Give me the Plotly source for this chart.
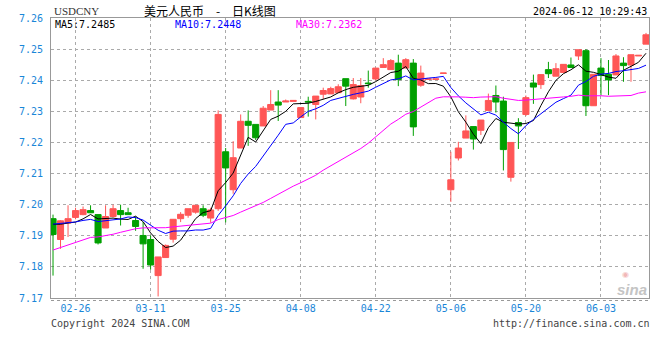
import pandas as pd
import plotly.graph_objects as go

# ---------------- data ----------------
dates = pd.bdate_range("2024-02-21", "2024-06-11").strftime("%Y-%m-%d").tolist()

open_ = [7.1955, 7.1888, 7.1941, 7.1959, 7.1968, 7.1981, 7.1968, 7.1925, 7.1962, 7.1981,
         7.1974, 7.1949, 7.1901, 7.1888, 7.1772, 7.1830, 7.1889, 7.1955, 7.1966, 7.1976,
         7.1987, 7.1957, 7.1987, 7.2170, 7.2048, 7.2182, 7.2268, 7.2258, 7.2253, 7.2304,
         7.2330, 7.2330, 7.2332, 7.2280, 7.2332, 7.2322, 7.2355, 7.2356, 7.2360, 7.2405,
         7.2340, 7.2346, 7.2391, 7.2404, 7.2441, 7.2434, 7.2455, 7.2439, 7.2455, 7.2384,
         7.2403, 7.2403, 7.2422, 7.2048, 7.2150, 7.2214, 7.2251, 7.2239, 7.2303, 7.2351,
         7.2333, 7.2088, 7.2264, 7.2290, 7.2391, 7.2386, 7.2434, 7.2413, 7.2425, 7.2449,
         7.2478, 7.2495, 7.2318, 7.2439, 7.2419, 7.2417, 7.2455, 7.2449, 7.2478, 7.2516]
high = [7.1968, 7.1950, 7.1998, 7.1990, 7.1994, 7.1998, 7.1968, 7.1998, 7.2000, 7.2000,
        7.1990, 7.1962, 7.1944, 7.1901, 7.1832, 7.1872, 7.1953, 7.1976, 7.1987, 7.1998,
        7.1998, 7.1990, 7.2303, 7.2182, 7.2204, 7.2290, 7.2303, 7.2258, 7.2317, 7.2368,
        7.2368, 7.2338, 7.2335, 7.2312, 7.2347, 7.2349, 7.2376, 7.2379, 7.2387, 7.2405,
        7.2407, 7.2407, 7.2431, 7.2439, 7.2471, 7.2468, 7.2482, 7.2471, 7.2468, 7.2447,
        7.2404, 7.2404, 7.2423, 7.2170, 7.2202, 7.2287, 7.2251, 7.2272, 7.2357, 7.2383,
        7.2347, 7.2200, 7.2278, 7.2351, 7.2418, 7.2418, 7.2459, 7.2455, 7.2451, 7.2473,
        7.2498, 7.2500, 7.2419, 7.2471, 7.2465, 7.2484, 7.2474, 7.2482, 7.2480, 7.2552]
low = [7.1772, 7.1858, 7.1896, 7.1953, 7.1966, 7.1974, 7.1872, 7.1925, 7.1959, 7.1933,
       7.1968, 7.1916, 7.1794, 7.1791, 7.1705, 7.1830, 7.1878, 7.1944, 7.1958, 7.1971,
       7.1960, 7.1942, 7.1980, 7.1943, 7.2035, 7.2182, 7.2189, 7.2208, 7.2253, 7.2304,
       7.2269, 7.2330, 7.2332, 7.2280, 7.2283, 7.2274, 7.2340, 7.2356, 7.2360, 7.2317,
       7.2338, 7.2326, 7.2376, 7.2400, 7.2441, 7.2434, 7.2381, 7.2439, 7.2221, 7.2379,
       7.2403, 7.2403, 7.2422, 7.2009, 7.2142, 7.2214, 7.2177, 7.2224, 7.2303, 7.2296,
       7.2110, 7.2074, 7.2179, 7.2285, 7.2324, 7.2372, 7.2407, 7.2413, 7.2425, 7.2441,
       7.2465, 7.2285, 7.2318, 7.2352, 7.2352, 7.2417, 7.2395, 7.2395, 7.2478, 7.2516]
close = [7.1904, 7.1948, 7.1955, 7.1981, 7.1984, 7.1974, 7.1877, 7.1962, 7.1987, 7.1968,
         7.1968, 7.1930, 7.1874, 7.1806, 7.1832, 7.1869, 7.1953, 7.1969, 7.1987, 7.1998,
         7.1966, 7.1983, 7.2290, 7.2118, 7.2151, 7.2268, 7.2255, 7.2215, 7.2310, 7.2322,
         7.2320, 7.2333, 7.2335, 7.2312, 7.2330, 7.2349, 7.2367, 7.2373, 7.2379, 7.2381,
         7.2386, 7.2383, 7.2389, 7.2439, 7.2450, 7.2463, 7.2402, 7.2466, 7.2250, 7.2423,
         7.2404, 7.2404, 7.2423, 7.2080, 7.2182, 7.2237, 7.2211, 7.2272, 7.2335, 7.2330,
         7.2177, 7.2200, 7.2253, 7.2344, 7.2378, 7.2418, 7.2421, 7.2437, 7.2451, 7.2441,
         7.2498, 7.2318, 7.2419, 7.2415, 7.2401, 7.2478, 7.2447, 7.2482, 7.2480, 7.2546]

# closes before the visible window (needed for the moving-average warm-up)
prior_close = [7.1705, 7.1700, 7.1710, 7.1720, 7.1790, 7.1830, 7.1850, 7.1840, 7.1780, 7.1775,
               7.1780, 7.1790, 7.1810, 7.1830, 7.1850, 7.1870, 7.1890, 7.1900, 7.1910, 7.1920,
               7.1930, 7.1945, 7.1940, 7.1935, 7.1940, 7.1948, 7.1935, 7.1966, 7.1932]

ma_windows = [5, 10, 30]
ma_colors = ["#000000", "#0000ff", "#ff00ff"]
ma_labels = ["MA5:7.2485", "MA10:7.2448", "MA30:7.2362"]

tick_dates = ["2024-02-26", "2024-03-11", "2024-03-25", "2024-04-08",
              "2024-04-22", "2024-05-06", "2024-05-20", "2024-06-03"]
tick_text = ["02-26", "03-11", "03-25", "04-08", "04-22", "05-06", "05-20", "06-03"]
y_ticks = [7.17, 7.18, 7.19, 7.20, 7.21, 7.22, 7.23, 7.24, 7.25, 7.26]

title_code = "USDCNY"
title_left = "美元人民币"
title_dash = "-"
title_right = "日K线图"
stamp_text = "2024-06-12 10:29:43"
copyright_text = "Copyright 2024 SINA.COM"
url_text = "http://finance.sina.com.cn"

# ---------------- figure ----------------
W, H = 660, 360
L, R, T, B = 51, 11, 18, 62
pw, ph = W - L - R, H - T - B


def px(x):
    return (x - L) / pw


def py(y):
    return (H - B - y) / ph


mono = "DejaVu Sans Mono"
RED = "#ff5656"
GREEN = "#00a000"

fig = go.Figure()
fig.add_trace(go.Candlestick(
    x=dates, open=open_, high=high, low=low, close=close,
    increasing=dict(line=dict(color=RED, width=1), fillcolor=RED),
    decreasing=dict(line=dict(color=GREEN, width=1), fillcolor=GREEN),
    hoverinfo="skip", showlegend=False,
))

all_close = pd.Series(prior_close + close)
for w, c in zip(ma_windows, ma_colors):
    ma = all_close.rolling(w).mean().iloc[len(prior_close):].tolist()
    fig.add_trace(go.Scatter(x=dates, y=ma, mode="lines",
                             line=dict(color=c, width=1),
                             hoverinfo="skip", showlegend=False))

ann = []


def add_text(text, x, y, xanchor, color, size, family=mono, **font_kw):
    ann.append(dict(text=text, x=px(x), y=py(y), xref="paper", yref="paper",
                    xanchor=xanchor, yanchor="middle", showarrow=False,
                    font=dict(family=family, size=size, color=color, **font_kw)))


add_text(title_code, 52, 11, "left", "#333333", 11, family="Liberation Serif")
add_text(title_left, 142, 10, "left", "#000000", 12, family="Noto Sans CJK SC")
add_text(title_dash, 218, 10, "center", "#000000", 12, family="Noto Sans CJK SC")
add_text(title_right, 230, 10, "left", "#000000", 12, family="Noto Sans CJK SC")
add_text(stamp_text, 649, 11, "right", "#000000", 10)
for lab, c, x in zip(ma_labels, ma_colors, [53, 173, 294]):
    add_text(lab, x, 24, "left", c, 10)
add_text(copyright_text, 49, 323, "left", "#444444", 10)
add_text(url_text, 652, 323, "right", "#444444", 10)
add_text("sina", 632, 289, "center", "#c4c4c4", 15, family="Liberation Sans",
         weight="bold", style="italic")
add_text("◉", 625, 274, "center", "#f2b8b8", 8, family="DejaVu Sans")

fig.update_layout(
    width=W, height=H,
    margin=dict(l=L, r=R, t=T, b=B, pad=0),
    paper_bgcolor="white", plot_bgcolor="white",
    boxgap=0.1, boxgroupgap=0.1,
    annotations=ann,
    shapes=[dict(type="line", xref="paper", yref="paper", x0=0, x1=1,
                 y0=py(300.5), y1=py(300.5),
                 line=dict(color="#999999", width=1, dash="dot"))],
)
fig.update_xaxes(
    type="category", rangeslider=dict(visible=False),
    range=[-0.27, len(dates) - 0.6],
    tickmode="array", tickvals=tick_dates, ticktext=tick_text,
    showgrid=True, gridcolor="#aaaaaa", griddash="dot", gridwidth=1,
    showline=True, mirror=True, linecolor="#999999", linewidth=1,
    ticks="", ticklabelstandoff=1,
    tickfont=dict(family=mono, size=10, color="#1a86d8"),
    zeroline=False,
)
fig.update_yaxes(
    range=[7.17, 7.26], tickmode="array", tickvals=y_ticks,
    tickformat=".2f",
    showgrid=True, gridcolor="#aaaaaa", griddash="dot", gridwidth=1,
    showline=True, mirror=True, linecolor="#999999", linewidth=1,
    ticks="", ticklabelstandoff=5,
    tickfont=dict(family=mono, size=10, color="#1a86d8"),
    zeroline=False,
)

fig.write_html("out.html", config=dict(displayModeBar=False))
